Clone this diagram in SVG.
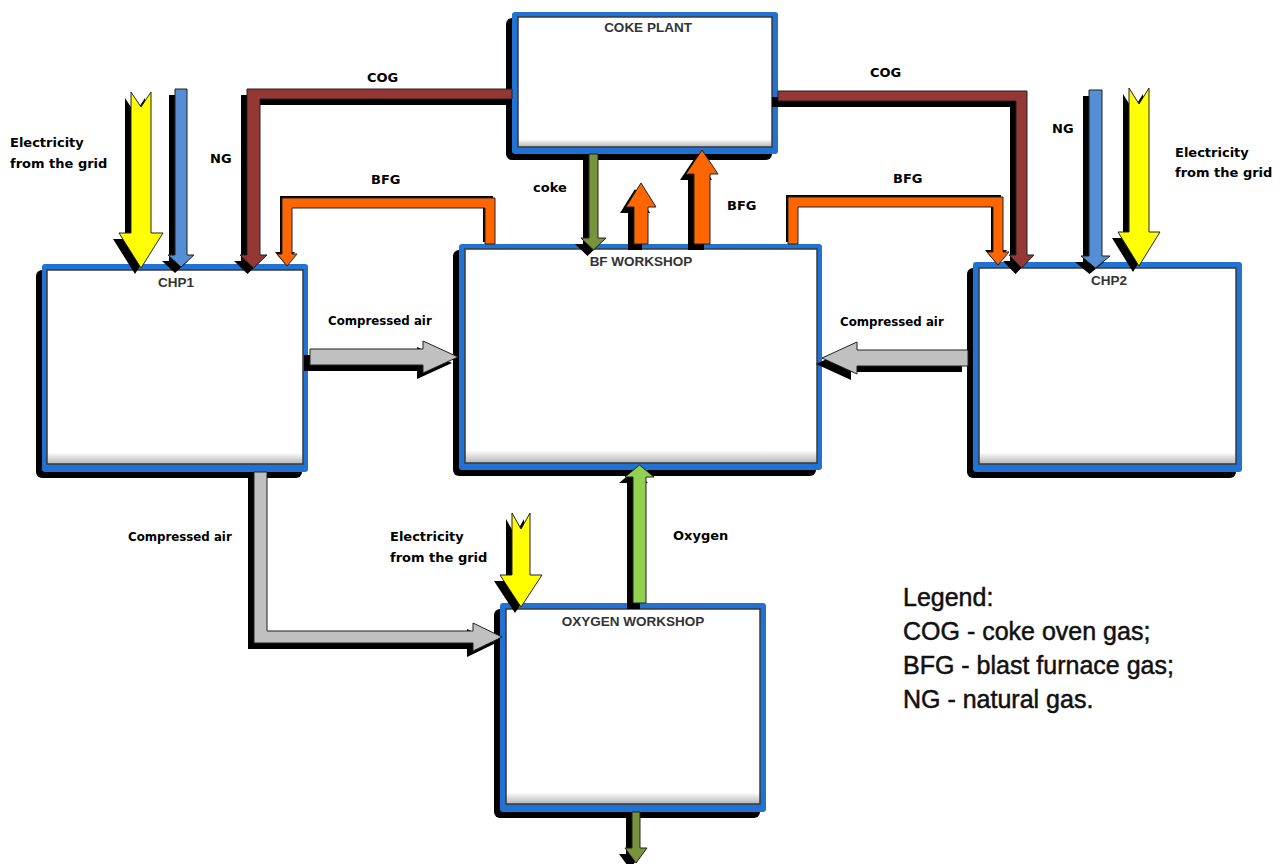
<svg xmlns="http://www.w3.org/2000/svg" xmlns:xlink="http://www.w3.org/1999/xlink" width="1285" height="864" viewBox="0 0 1285 864">
<style>
.bshadow{fill:#000}
.bblue{fill:#2272d4}
.binner{fill:url(#inner);stroke:#3a3a3a;stroke-width:1.5}
.title{font-family:"Liberation Sans",Arial,sans-serif;font-weight:bold;font-size:13.5px;fill:#333;text-anchor:middle}
.lbl{font-family:"DejaVu Sans",sans-serif;font-weight:bold;font-size:13px;fill:#000}
.lbl2{font-family:"DejaVu Sans",sans-serif;font-weight:bold;font-size:11.8px;fill:#000}
.legend{font-family:"Liberation Sans",Arial,sans-serif;font-size:25px;fill:#111;stroke:#111;stroke-width:0.5}
.sh{fill:#000}
.yellow{fill:#ffff00;stroke:#222;stroke-width:1}
.ng{fill:#558ed5;stroke:#222;stroke-width:1}
.cog{fill:#953735;stroke:#222;stroke-width:1}
.bfg{fill:#ff6600;stroke:#222;stroke-width:1}
.coke{fill:#77933c;stroke:#222;stroke-width:1}
.oxy{fill:#92d050;stroke:#222;stroke-width:1}
.air{fill:#c0c0c0;stroke:#222;stroke-width:1}
</style>
<defs>
<linearGradient id="inner" x1="0" y1="0" x2="0" y2="1">
<stop offset="0" stop-color="#ffffff"/>
<stop offset="0.94" stop-color="#ffffff"/>
<stop offset="1" stop-color="#b5b5b5"/>
</linearGradient>
<polygon id="a-elec1" points="131,92 141,107 151,92 151,233 163,233 141,268 119,233 131,233"/>
<polygon id="a-ng1" points="175,89 187,89 187,255 194,255 181,267 168,255 175,255"/>
<polygon id="a-cog1" points="512,89 247,89 247,255 240,255 253.5,268 267,255 260,255 260,99 512,99"/>
<polygon id="a-bfg1" points="485,244 485,208 292,208 292,254 297,254 287,266 277,254 282,254 282,198 495,198 495,244"/>
<polygon id="a-coke" points="589,154 598,154 598,238 606,238 593.5,250 581,238 589,238"/>
<polygon id="a-bfgs" points="634,244 634,207 626,207 641,183 656,207 648,207 648,244"/>
<polygon id="a-bfgb" points="694,244 694,174 686,174 702,150 718,174 710,174 710,244"/>
<polygon id="a-bfg2" points="788,244 788,197 1003,197 1003,252 1009,252 998,265 987,252 993,252 993,207 798,207 798,244"/>
<polygon id="a-cog2" points="778,91 1027,91 1027,255 1034,255 1021.5,268 1009,255 1016,255 1016,101 778,101"/>
<polygon id="a-ng2" points="1089,90 1102,90 1102,256 1110,256 1095.5,268 1081,256 1089,256"/>
<polygon id="a-elec2" points="1129,88 1139,104 1149,88 1149,232 1160,232 1139,266 1118,232 1129,232"/>
<polygon id="a-air1" points="310,349 423,349 423,341 458,357 423,373 423,365 310,365"/>
<polygon id="a-air2" points="968,350 857,350 857,342 822,358 857,374 857,366 968,366"/>
<polygon id="a-air3" points="254,472 267,472 267,631 473,631 473,623 502,637 473,651 473,643 254,643"/>
<polygon id="a-elec3" points="512,513 521,529 530,513 530,575 542,575 521,607 500,575 512,575"/>
<polygon id="a-oxy" points="633,603 646,603 646,477 654,477 639.5,465 625,477 633,477"/>
<polygon id="a-out" points="632,812 640,812 640,848 647,848 636,863 625,848 632,848"/>
</defs>
<rect width="1285" height="864" fill="#ffffff"/>

<g id="coke-plant">
<rect class="bshadow" x="506" y="18" width="266" height="142" rx="6"/>
<rect class="bblue" x="512" y="12" width="266" height="142" rx="3"/>
<rect class="binner" x="518" y="17" width="254" height="130"/>
<text class="title" x="648" y="32">COKE PLANT</text>
</g>
<g id="chp1">
<rect class="bshadow" x="36" y="270" width="266" height="208" rx="6"/>
<rect class="bblue" x="42" y="264" width="266" height="208" rx="3"/>
<rect class="binner" x="47" y="270" width="256" height="194"/>
<text class="title" x="176" y="287">CHP1</text>
</g>
<g id="bf-workshop">
<rect class="bshadow" x="453" y="250" width="363" height="226" rx="6"/>
<rect class="bblue" x="459" y="244" width="363" height="226" rx="3"/>
<rect class="binner" x="465" y="249" width="352" height="214"/>
<text class="title" x="641" y="266">BF WORKSHOP</text>
</g>
<g id="chp2">
<rect class="bshadow" x="967" y="268" width="269" height="210" rx="6"/>
<rect class="bblue" x="973" y="262" width="269" height="210" rx="3"/>
<rect class="binner" x="979" y="268" width="257" height="196"/>
<text class="title" x="1109" y="285">CHP2</text>
</g>
<g id="oxygen-workshop">
<rect class="bshadow" x="494" y="609" width="266" height="209" rx="6"/>
<rect class="bblue" x="500" y="603" width="266" height="209" rx="3"/>
<rect class="binner" x="506" y="609" width="254" height="195"/>
<text class="title" x="633" y="626">OXYGEN WORKSHOP</text>
</g>

<g id="connectors">
<g transform="translate(-6,6)">
<use xlink:href="#a-elec1" class="sh"/>
<use xlink:href="#a-ng1" class="sh"/>
<use xlink:href="#a-cog1" class="sh"/>
<use xlink:href="#a-coke" class="sh"/>
<use xlink:href="#a-bfgs" class="sh"/>
<use xlink:href="#a-bfgb" class="sh"/>
<use xlink:href="#a-cog2" class="sh"/>
<use xlink:href="#a-ng2" class="sh"/>
<use xlink:href="#a-elec2" class="sh"/>
<use xlink:href="#a-air1" class="sh"/>
<use xlink:href="#a-air2" class="sh"/>
<use xlink:href="#a-air3" class="sh"/>
<use xlink:href="#a-elec3" class="sh"/>
<use xlink:href="#a-oxy" class="sh"/>
<use xlink:href="#a-out" class="sh"/>
</g>
<g transform="translate(-2,-2)">
<use xlink:href="#a-bfg1" class="sh"/>
<use xlink:href="#a-bfg2" class="sh"/>
</g>
<use xlink:href="#a-elec1" class="yellow"/>
<use xlink:href="#a-ng1" class="ng"/>
<use xlink:href="#a-cog1" class="cog"/>
<use xlink:href="#a-bfg1" class="bfg"/>
<use xlink:href="#a-coke" class="coke"/>
<use xlink:href="#a-bfgs" class="bfg"/>
<use xlink:href="#a-bfgb" class="bfg"/>
<use xlink:href="#a-bfg2" class="bfg"/>
<use xlink:href="#a-cog2" class="cog"/>
<use xlink:href="#a-ng2" class="ng"/>
<use xlink:href="#a-elec2" class="yellow"/>
<use xlink:href="#a-air1" class="air"/>
<use xlink:href="#a-air2" class="air"/>
<use xlink:href="#a-air3" class="air"/>
<use xlink:href="#a-elec3" class="yellow"/>
<use xlink:href="#a-oxy" class="oxy"/>
<use xlink:href="#a-out" class="coke"/>

<text class="lbl" x="10" y="147">Electricity</text>
<text class="lbl" x="10" y="168">from the grid</text>
<text class="lbl" x="210" y="163">NG</text>
<text class="lbl" x="367" y="82">COG</text>
<text class="lbl" x="371" y="184">BFG</text>
<text class="lbl" x="533" y="192">coke</text>
<text class="lbl" x="727" y="210">BFG</text>
<text class="lbl" x="870" y="77">COG</text>
<text class="lbl" x="893" y="183">BFG</text>
<text class="lbl" x="1052" y="133">NG</text>
<text class="lbl" x="1175" y="157">Electricity</text>
<text class="lbl" x="1175" y="177">from the grid</text>
<text class="lbl2" x="328" y="325">Compressed air</text>
<text class="lbl2" x="840" y="326">Compressed air</text>
<text class="lbl2" x="128" y="541">Compressed air</text>
<text class="lbl" x="390" y="541">Electricity</text>
<text class="lbl" x="390" y="562">from the grid</text>
<text class="lbl" x="673" y="540">Oxygen</text>
</g>

<g id="legend">
<text class="legend" x="903" y="606">Legend:</text>
<text class="legend" x="903" y="640">COG - coke oven gas;</text>
<text class="legend" x="903" y="674">BFG - blast furnace gas;</text>
<text class="legend" x="903" y="708">NG - natural gas.</text>
</g>
</svg>
